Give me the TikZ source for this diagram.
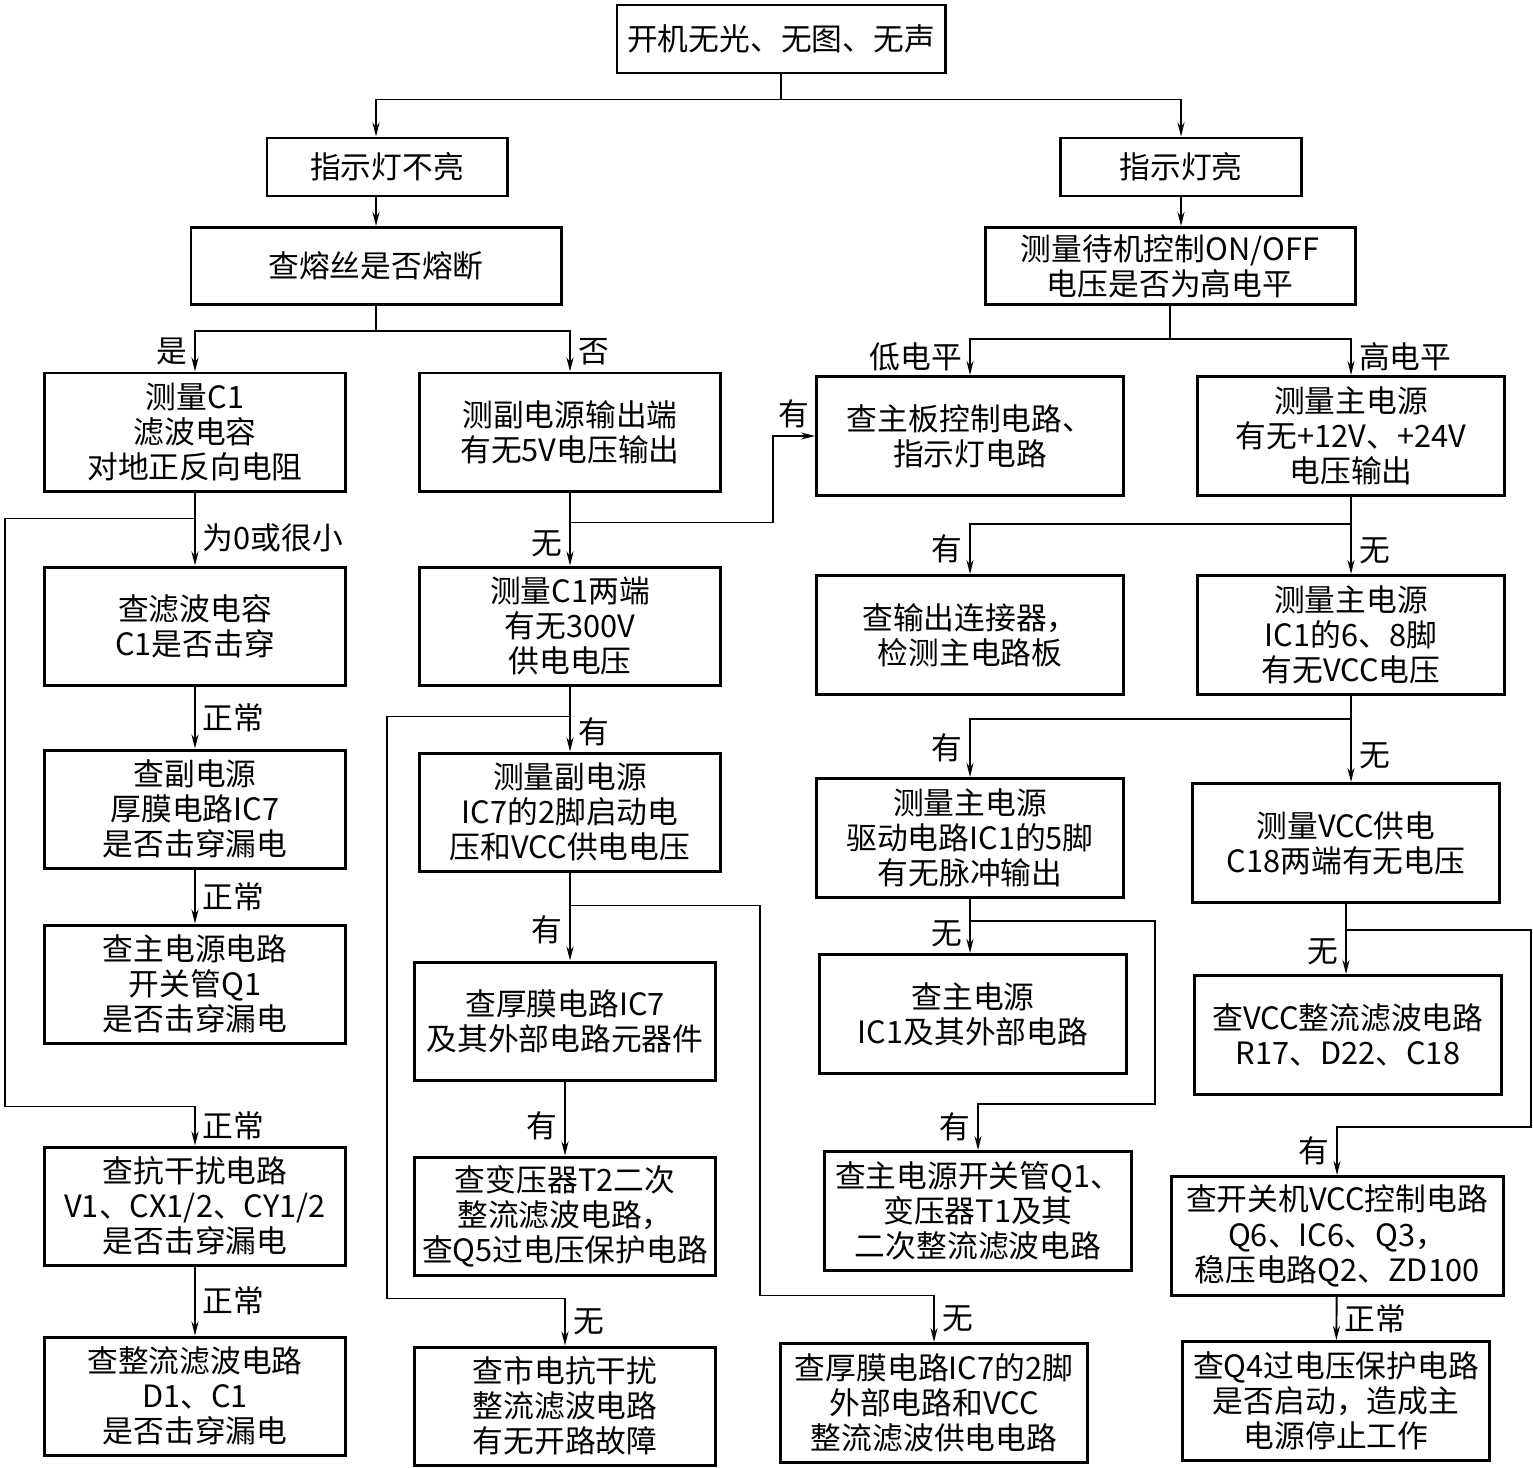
\documentclass[tikz,border=0pt]{standalone}
\usepackage{fontspec}
\setmainfont{Noto Sans CJK SC}
\usepackage{tikz}
\usetikzlibrary{arrows.meta,positioning}

\begin{document}
\begin{tikzpicture}[
  x=0.2mm, y=-0.2mm,
  box/.style={rectangle, draw, line width=1.7pt, align=center, inner sep=2pt,
              font=\fontsize{17.5}{20}\selectfont},
  cbox/.style={box, minimum width=6.03cm, minimum height=2.36cm},
  wbox/.style={box, minimum width=6.14cm, minimum height=2.38cm},
  arr/.style={-{Stealth[length=8pt, width=4pt]}, line width=1.1pt},
  line/.style={line width=1.1pt},
  lbl/.style={font=\fontsize{17.5}{20}\selectfont, inner sep=4pt},
]
  \useasboundingbox (0,0) rectangle (1533,1468);

  % Stage 1: Symptom
  \node[box, minimum width=6.56cm, minimum height=1.36cm] (start) at (781,39) {开机无光、无图、无声};
  \node[box, minimum width=4.8cm, minimum height=1.16cm] (ledoff) at (387,167) {指示灯不亮};
  \node[box, minimum width=4.82cm, minimum height=1.16cm] (ledon) at (1181,167) {指示灯亮};
  \node[box, minimum width=7.4cm, minimum height=1.54cm] (fuse) at (376,266) {查熔丝是否熔断};
  \node[box, minimum width=7.4cm, minimum height=1.54cm] (onoff) at (1170,266) {测量待机控制ON/OFF\\电压是否为高电平};

  % Stage 2: Fuse blown
  \node[cbox] (capres) at (195,432) {测量C1\\滤波电容\\对地正反向电阻};
  \node[cbox] (capchk) at (195,626) {查滤波电容\\C1是否击穿};
  \node[cbox] (ic7leak) at (195,809) {查副电源\\厚膜电路IC7\\是否击穿漏电};
  \node[cbox] (q1leak) at (195,984) {查主电源电路\\开关管Q1\\是否击穿漏电};
  \node[cbox] (emi) at (195,1206) {查抗干扰电路\\V1、CX1/2、CY1/2\\是否击穿漏电};
  \node[cbox] (rectleak) at (195,1396) {查整流滤波电路\\D1、C1\\是否击穿漏电};

  % Stage 3: Fuse ok, standby supply
  \node[cbox] (sub5v) at (570,432) {测副电源输出端\\有无5V电压输出};
  \node[cbox] (v300) at (570,626) {测量C1两端\\有无300V\\供电电压};
  \node[cbox] (ic7pin) at (570,812) {测量副电源\\IC7的2脚启动电\\压和VCC供电电压};
  \node[cbox] (ic7ext) at (565,1021) {查厚膜电路IC7\\及其外部电路元器件};
  \node[cbox] (t2) at (565,1216) {查变压器T2二次\\整流滤波电路，\\查Q5过电压保护电路};
  \node[cbox] (mains) at (565,1406) {查市电抗干扰\\整流滤波电路\\有无开路故障};

  % Stage 4: Main supply, low side
  \node[wbox] (board) at (970,436) {查主板控制电路、\\指示灯电路};
  \node[wbox] (conn) at (970,635) {查输出连接器，\\检测主电路板};
  \node[wbox] (pulse) at (970,838) {测量主电源\\驱动电路IC1的5脚\\有无脉冲输出};
  \node[wbox] (ic1ext) at (973,1014) {查主电源\\IC1及其外部电路};
  \node[wbox] (q1t1) at (978,1211) {查主电源开关管Q1、\\变压器T1及其\\二次整流滤波电路};
  \node[wbox] (ic7vcc) at (934,1403) {查厚膜电路IC7的2脚\\外部电路和VCC\\整流滤波供电电路};

  % Stage 5: Main supply, high side
  \node[wbox] (out12) at (1351,436) {测量主电源\\有无+12V、+24V\\电压输出};
  \node[wbox] (vcc68) at (1351,635) {测量主电源\\IC1的6、8脚\\有无VCC电压};
  \node[wbox] (c18) at (1346,843) {测量VCC供电\\C18两端有无电压};
  \node[wbox] (vccrect) at (1348,1035) {查VCC整流滤波电路\\R17、D22、C18};
  \node[wbox, minimum width=6.64cm] (vccctl) at (1337,1236) {查开关机VCC控制电路\\Q6、IC6、Q3，\\稳压电路Q2、ZD100};
  \node[wbox] (q4) at (1336,1401) {查Q4过电压保护电路\\是否启动，造成主\\电源停止工作};

  % Arrows: top
  \draw[line] (start.south) -- ++(0,25) coordinate (tsplit);
  \draw[arr] (tsplit) -| (ledoff.north -| fuse.north);
  \draw[arr] (tsplit) -| (ledon.north);
  \draw[arr] (ledoff.south -| fuse.north) -- (fuse.north);
  \draw[arr] (ledon.south) -- (ledon.south |- onoff.north);
  \draw[line] (fuse.south) -- ++(0,25) coordinate (fsplit);
  \draw[arr] (fsplit) -| node[lbl, pos=0.75, left] {是} (capres.north);
  \draw[arr] (fsplit) -| node[lbl, pos=0.75, right] {否} (sub5v.north);
  \draw[line] (onoff.south) -- ++(0,33) coordinate (osplit);
  \draw[arr] (osplit) -| node[lbl, pos=0.75, left] {低电平} (board.north);
  \draw[arr] (osplit) -| node[lbl, pos=0.75, right] {高电平} (out12.north);

  % Arrows: left column
  \draw[arr] (capres) -- node[lbl, pos=0.62, right] {为0或很小} (capchk);
  \draw[arr] (capchk) -- node[lbl, right] {正常} (ic7leak);
  \draw[arr] (ic7leak) -- node[lbl, right] {正常} (q1leak);
  \draw[arr] (capres.south) ++(0,26) -- ++(-190,0) -- ++(0,588) -| node[lbl, pos=0.75, right] {正常} (emi.north);
  \draw[arr] (emi) -- node[lbl, right] {正常} (rectleak);

  % Arrows: second column
  \draw[arr] (sub5v) -- node[lbl, pos=0.7, left] {无} (v300);
  \draw[arr] (sub5v.south) ++(0,30) -- ++(203,0) |- node[lbl, pos=0.75, above] {有} (board.west);
  \draw[arr] (v300) -- node[lbl, pos=0.7, right] {有} (ic7pin);
  \draw[arr] (v300.south) ++(0,30) -- ++(-183,0) -- ++(0,582) -| node[lbl, pos=0.75, right] {无} (mains.north);
  \draw[arr] (ic7pin.south) -- node[lbl, pos=0.65, left] {有} (ic7pin.south |- ic7ext.north);
  \draw[arr] (ic7pin.south) ++(0,33) -- ++(190,0) -- ++(0,390) -| node[lbl, pos=0.75, right] {无} (ic7vcc.north);
  \draw[arr] (ic7ext) -- node[lbl, pos=0.6, left] {有} (t2);

  % Arrows: right columns
  \draw[arr] (out12) -- node[lbl, pos=0.7, right] {无} (vcc68);
  \draw[arr] (out12.south) ++(0,27) -| node[lbl, pos=0.75, left] {有} (conn.north);
  \draw[arr] (vcc68.south) -- node[lbl, pos=0.7, right] {无} (vcc68.south |- c18.north);
  \draw[arr] (vcc68.south) ++(0,23) -| node[lbl, pos=0.75, left] {有} (pulse.north);
  \draw[arr] (pulse.south) -- node[lbl, pos=0.65, left] {无} (pulse.south |- ic1ext.north);
  \draw[arr] (pulse.south) ++(0,22) -- ++(185,0) -- ++(0,183) -| node[lbl, pos=0.75, left] {有} (q1t1.north);
  \draw[arr] (c18.south) -- node[lbl, pos=0.68, left] {无} (c18.south |- vccrect.north);
  \draw[arr] (c18.south) ++(0,26) -- ++(185,0) -- ++(0,197) -| node[lbl, pos=0.75, left] {有} (vccctl.north);
  \draw[arr] (vccctl) -- node[lbl, right] {正常} (q4);
\end{tikzpicture}
\end{document}
